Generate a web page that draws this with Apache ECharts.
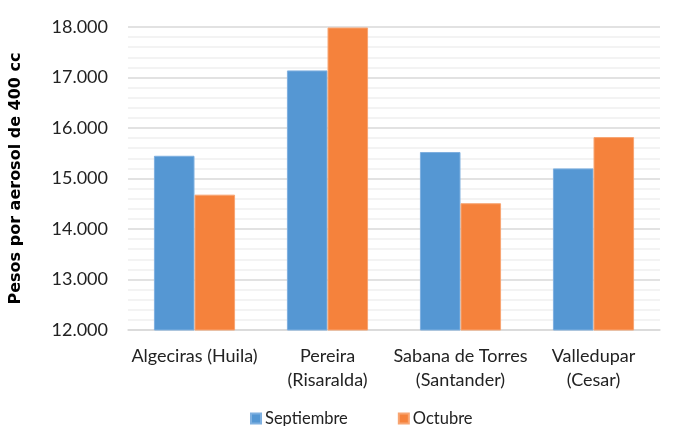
<!DOCTYPE html>
<html><head><meta charset="utf-8">
<script src="https://cdn.jsdelivr.net/npm/echarts@6/dist/echarts.min.js"></script>
<style>html,body{margin:0;padding:0;background:#fff}#c{width:673px;height:426px}</style>
</head><body><div id="c"></div>
<script>
const categories = ["Algeciras (Huila)", "Pereira\n(Risaralda)", "Sabana de Torres\n(Santander)", "Valledupar\n(Cesar)"];
const septiembre = [15450, 17140, 15525, 15200];
const octubre = [14680, 17990, 14510, 15820];
const seriesNames = ["Septiembre", "Octubre"];

const fmt = v => String(v).replace(/\B(?=(\d{3})+(?!\d))/g, ".") ;
const chart = echarts.init(document.getElementById('c'));
const font = 'Lato';
chart.setOption({
  animation: false,
  grid: {left: 123, right: 13, top: 27, bottom: 96},
  legend: {
    bottom: -6, left: 245, itemWidth: 10, itemHeight: 10, itemGap: 50,
    icon: 'rect',
    textStyle: {fontFamily: font, fontSize: 16.5, color: '#222', padding: [0, 0, 0, -1]},
    data: seriesNames
  },
  xAxis: {
    type: 'category', data: categories,
    axisLine: {lineStyle: {color: '#d9d9d9', width: 1.5}},
    axisTick: {show: false},
    axisLabel: {fontFamily: font, fontSize: 18, color: '#222', lineHeight: 24, margin: 14, interval: 0}
  },
  yAxis: {
    type: 'value', min: 12000, max: 18000, interval: 1000,
    name: 'Pesos por aerosol de 400 cc', nameLocation: 'middle', nameGap: 104,
    nameTextStyle: {fontFamily: 'DejaVu Sans', fontSize: 16, fontWeight: 'bold', color: '#000'},
    axisLine: {show: false}, axisTick: {show: false},
    axisLabel: {fontFamily: font, fontSize: 18, color: '#222', margin: 20, formatter: v => fmt(v)},
    splitLine: {lineStyle: {color: '#d9d9d9', width: 1.5}},
    minorTick: {show: false, splitNumber: 5},
    minorSplitLine: {show: true, lineStyle: {color: '#f0f0f0', width: 1.5}}
  },
  series: [
    {name: seriesNames[0], type: 'bar', data: septiembre, barGap: '0%', barCategoryGap: '39%',
     itemStyle: {color: '#5597D3', borderColor: '#7fb0e0', borderWidth: 1}},
    {name: seriesNames[1], type: 'bar', data: octubre,
     itemStyle: {color: '#F5823C', borderColor: '#f8a572', borderWidth: 1}}
  ]
});
</script></body></html>
